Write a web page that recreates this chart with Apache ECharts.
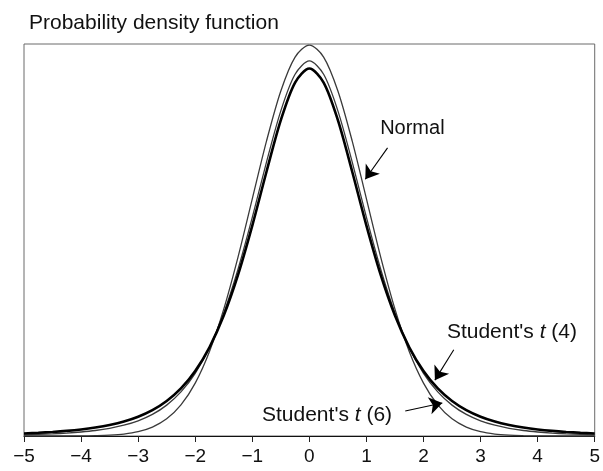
<!DOCTYPE html>
<html>
<head>
<meta charset="utf-8">
<script src="https://cdn.jsdelivr.net/npm/echarts@6/dist/echarts.min.js"></script>
<style>
  html, body { margin: 0; padding: 0; background: #fff; }
  #chart { width: 603px; height: 471px; }
</style>
</head>
<body>
<div id="chart"></div>
<script>
// x positions, step 0.25
const xs = [-5, -4.75, -4.5, -4.25, -4, -3.75, -3.5, -3.25, -3, -2.75, -2.5, -2.25, -2, -1.75, -1.5, -1.25, -1, -0.75, -0.5, -0.25,
  0, 0.25, 0.5, 0.75, 1, 1.25, 1.5, 1.75, 2, 2.25, 2.5, 2.75, 3, 3.25, 3.5, 3.75, 4, 4.25, 4.5, 4.75, 5]

const normalPdf = [0, 0, 0, 0, 0.0001, 0.0004, 0.0009, 0.0020, 0.0044, 0.0091, 0.0175, 0.0317, 0.0540, 0.0863, 0.1295, 0.1826, 0.2420, 0.3011, 0.3521, 0.3867,
  0.3989, 0.3867, 0.3521, 0.3011, 0.2420, 0.1826, 0.1295, 0.0863, 0.0540, 0.0317, 0.0175, 0.0091, 0.0044, 0.0020, 0.0009, 0.0004, 0.0001, 0, 0, 0, 0]

const t4Pdf = [0.0026, 0.0033, 0.0041, 0.0052, 0.0067, 0.0087, 0.0113, 0.0148, 0.0197, 0.0264, 0.0357, 0.0485, 0.0663, 0.0905, 0.1229, 0.1644, 0.2147, 0.2699, 0.3223, 0.3607,
  0.3750, 0.3607, 0.3223, 0.2699, 0.2147, 0.1644, 0.1229, 0.0905, 0.0663, 0.0485, 0.0357, 0.0264, 0.0197, 0.0148, 0.0113, 0.0087, 0.0067, 0.0052, 0.0041, 0.0033, 0.0026]

const t6Pdf = [0.0012, 0.0016, 0.0022, 0.0030, 0.0041, 0.0056, 0.0078, 0.0110, 0.0155, 0.0220, 0.0315, 0.0450, 0.0640, 0.0904, 0.1256, 0.1703, 0.2231, 0.2797, 0.3318, 0.3691,
  0.3827, 0.3691, 0.3318, 0.2797, 0.2231, 0.1703, 0.1256, 0.0904, 0.0640, 0.0450, 0.0315, 0.0220, 0.0155, 0.0110, 0.0078, 0.0056, 0.0041, 0.0030, 0.0022, 0.0016, 0.0012]

const xTicks = [-5, -4, -3, -2, -1, 0, 1, 2, 3, 4, 5]
const titleText = 'Probability density function'

const pairs = (ys) => xs.map((x, i) => [x, ys[i]])

const chart = echarts.init(document.getElementById('chart'))

const font = 'Liberation Sans, Arial, Helvetica, sans-serif'

// arrow from a label to its curve, in data coords
const arrow = (from, to) => [
  { coord: from, symbol: 'none' },
  { coord: to, symbol: 'arrow' }
]

const note = (coord, text, size) => ({
  coord: coord,
  label: {
    formatter: text,
    fontSize: size,
    rich: { it: { fontFamily: font, fontSize: size, fontStyle: 'italic', color: '#111' } }
  }
})

chart.setOption({
  animation: false,
  title: {
    text: titleText,
    left: 24,
    top: 8,
    textStyle: { fontFamily: font, fontSize: 21, fontWeight: 'normal', color: '#111' }
  },
  grid: {
    left: 24,
    right: 5,
    top: 44,
    bottom: 35,
    show: true,
    borderColor: '#6a6a6a',
    borderWidth: 1
  },
  xAxis: {
    type: 'value',
    min: -5,
    max: 5,
    interval: 1,
    splitLine: { show: false },
    axisLine: { lineStyle: { color: '#111', width: 1.2 } },
    axisTick: { show: true, inside: false, length: 6, lineStyle: { color: '#222' } },
    axisLabel: {
      margin: 11,
      fontFamily: font,
      fontSize: 19,
      color: '#111',
      formatter: (v) => xTicks.indexOf(v) === -1 ? '' : String(v).replace('-', '\u2212')
    }
  },
  yAxis: {
    type: 'value',
    min: 0,
    max: 0.4,
    splitLine: { show: false },
    axisLine: { show: false },
    axisTick: { show: false },
    axisLabel: { show: false }
  },
  series: [
    {
      name: 'Normal',
      type: 'line',
      data: pairs(normalPdf),
      smooth: 0.3,
      showSymbol: false,
      lineStyle: { color: '#3a3a3a', width: 1.3 }
    },
    {
      name: "Student's t (6)",
      type: 'line',
      data: pairs(t6Pdf),
      smooth: 0.3,
      showSymbol: false,
      lineStyle: { color: '#3a3a3a', width: 1.3 }
    },
    {
      name: "Student's t (4)",
      type: 'line',
      data: pairs(t4Pdf),
      smooth: 0.3,
      showSymbol: false,
      lineStyle: { color: '#000', width: 2.6 },
      markLine: {
        silent: true,
        symbol: ['none', 'arrow'],
        symbolSize: 13,
        label: { show: false },
        lineStyle: { color: '#000', width: 1.1, type: 'solid' },
        itemStyle: { color: '#000' },
        data: [
          arrow([1.37, 0.294], [0.98, 0.262]),
          arrow([2.53, 0.088], [2.2, 0.057]),
          arrow([1.68, 0.0255], [2.33, 0.0337])
        ]
      },
      markPoint: {
        silent: true,
        symbol: 'circle',
        symbolSize: 0,
        label: {
          show: true,
          position: 'right',
          distance: 0,
          fontFamily: font,
          fontSize: 20,
          color: '#111'
        },
        data: [
          note([1.24, 0.314], 'Normal', 20),
          note([2.41, 0.106], "Student's {it|t} (4)", 21),
          note([-0.83, 0.0214], "Student's {it|t} (6)", 21)
        ]
      }
    }
  ]
})
</script>
</body>
</html>
